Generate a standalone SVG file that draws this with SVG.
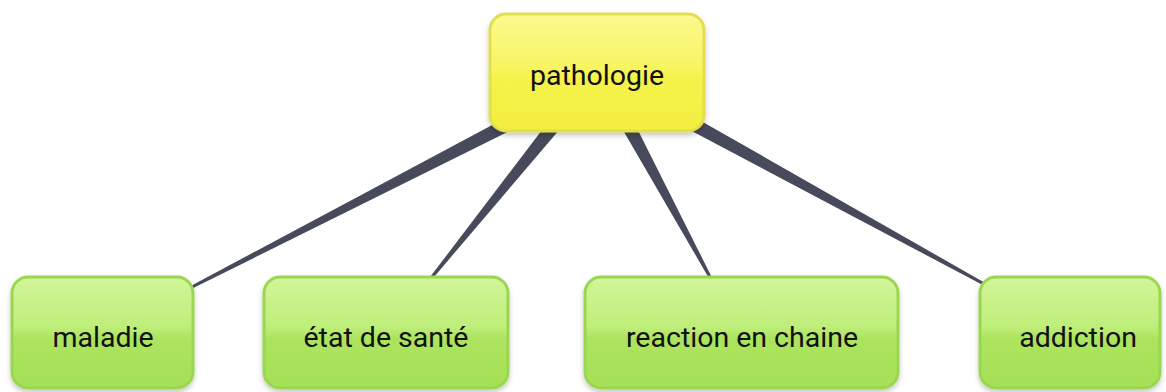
<svg xmlns="http://www.w3.org/2000/svg" width="1166" height="392" viewBox="0 0 1166 392">
<defs>
<linearGradient id="gy" x1="0" y1="0" x2="0" y2="1">
<stop offset="0" stop-color="#fbfa90"/><stop offset="0.45" stop-color="#f8f562"/><stop offset="0.55" stop-color="#f5f24a"/><stop offset="1" stop-color="#f2ef40"/>
</linearGradient>
<linearGradient id="gg" x1="0" y1="0" x2="0" y2="1">
<stop offset="0" stop-color="#d2f59a"/><stop offset="0.45" stop-color="#bfee7a"/><stop offset="0.55" stop-color="#ace45e"/><stop offset="1" stop-color="#a6e056"/>
</linearGradient>
<filter id="sh" x="-10%" y="-10%" width="120%" height="130%">
<feDropShadow dx="0" dy="3" stdDeviation="2.5" flood-color="#000" flood-opacity="0.22"/>
</filter>
</defs>
<style>
.y{fill:url(#gy);stroke:#e2de50;stroke-width:3;filter:url(#sh)}
.g{fill:url(#gg);stroke:#9ad650;stroke-width:3;filter:url(#sh)}
.c{fill:#464a5a}
text{font-family:Roboto,"Liberation Sans",sans-serif;font-size:28.5px;fill:#111;text-anchor:middle;dominant-baseline:central}
</style>
<g id="connectors">
<polygon class="c" points="523.2,124.2 516.8,111.8 189.3,286.7 190.7,289.3"/>
<polygon class="c" points="565.5,122.4 554.5,113.6 430.8,276.1 433.2,277.9"/>
<polygon class="c" points="617.8,121.3 630.2,114.7 711.3,276.3 708.7,277.7"/>
<polygon class="c" points="676.6,123.1 683.4,110.9 984.7,282.7 983.3,285.3"/>
</g>
<g id="pathologie">
<rect class="y" x="490" y="14" width="214" height="117" rx="16"/>
<text x="597" y="75">pathologie</text>
</g>
<g id="maladie">
<rect class="g" x="12" y="277" width="181" height="111" rx="16"/>
<text x="103" y="337">maladie</text>
</g>
<g id="etat">
<rect class="g" x="264" y="277" width="244" height="111" rx="16"/>
<text x="386" y="337">état de santé</text>
</g>
<g id="reaction">
<rect class="g" x="585" y="277" width="313" height="111" rx="16"/>
<text x="742" y="337">reaction en chaine</text>
</g>
<g id="addiction">
<rect class="g" x="980" y="277" width="180" height="111" rx="16"/>
<text x="1078" y="337">addiction</text>
</g>
</svg>
